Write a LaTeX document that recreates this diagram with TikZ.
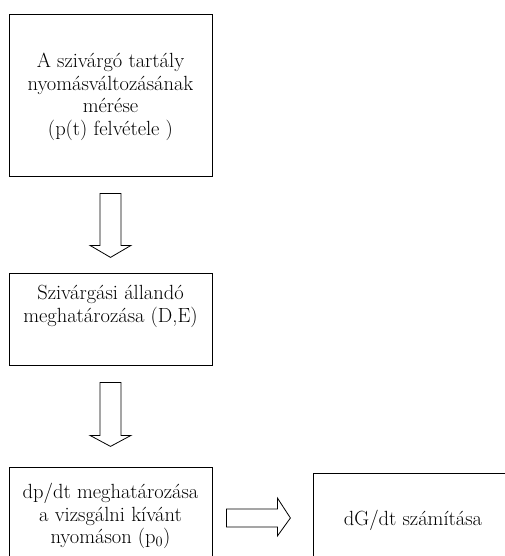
\documentclass[tikz,border=0pt]{standalone}
\usepackage{tikz}
\usetikzlibrary{calc}
\usetikzlibrary{positioning}

\begin{document}
\begin{tikzpicture}[
x=1pt,y=-1pt,
MyBox/.style={draw=black,line width=0.8pt,rectangle,inner sep=0pt},
MyText/.style={align=center,font=\fontsize{20.5}{22.5}\selectfont,inner sep=0pt},
BlockArrow/.style={draw=black,line width=0.8pt,fill=white,line join=miter}
]
\useasboundingbox (0,0) rectangle (505,556);
\clip (0,0) rectangle (505,556);

% boxes
\node[MyBox,minimum width=203,minimum height=162] (meres) at (110.5,95) {};
\node[MyBox,minimum width=203,minimum height=92] (allando) at (110.5,319) {};
\node[MyBox,minimum width=203,minimum height=140] (dpdt) at (110.5,537) {};
\node[MyBox,minimum width=220,minimum height=140] (dGdt) at (423,543) {};

% texts
\node[MyText,anchor=north] (meresT) at (110.5,53) {A szivárgó tartály\\nyomásváltozásának\\mérése\\(p(t) felvétele )};
\node[MyText,anchor=north] (allandoT) at (110.5,285) {Szivárgási állandó\\meghatározása (D,E)};
\node[MyText,anchor=north] (dpdtT) at (110.5,483) {dp/dt meghatározása\\a vizsgálni kívánt\\nyomáson (p$_0$)};
\node[MyText,anchor=base] (dGdtT) at (413,525) {dG/dt számítása};

% hollow arrows
\coordinate (A1) at ($(meres.south)+(0,17)$);
\draw[BlockArrow] ($(A1)+(-10.5,0)$) -- ($(A1)+(10.5,0)$) -- ($(A1)+(10.5,52)$) -- ($(A1)+(20.5,52)$)
  -- ($(A1)+(0,64)$) -- ($(A1)+(-20.5,52)$) -- ($(A1)+(-10.5,52)$) -- cycle;

\coordinate (A2) at ($(allando.south)+(0,17)$);
\draw[BlockArrow] ($(A2)+(-10.5,0)$) -- ($(A2)+(10.5,0)$) -- ($(A2)+(10.5,53)$) -- ($(A2)+(20.5,53)$)
  -- ($(A2)+(0,64)$) -- ($(A2)+(-20.5,53)$) -- ($(A2)+(-10.5,53)$) -- cycle;

\coordinate (A3) at ($(dpdt.east |- 0,518)+(14,0)$);
\draw[BlockArrow] ($(A3)+(0,-9)$) -- ($(A3)+(51,-9)$) -- ($(A3)+(51,-20)$) -- ($(A3)+(64,0)$)
  -- ($(A3)+(51,18)$) -- ($(A3)+(51,9)$) -- ($(A3)+(0,9)$) -- cycle;

\end{tikzpicture}
\end{document}
